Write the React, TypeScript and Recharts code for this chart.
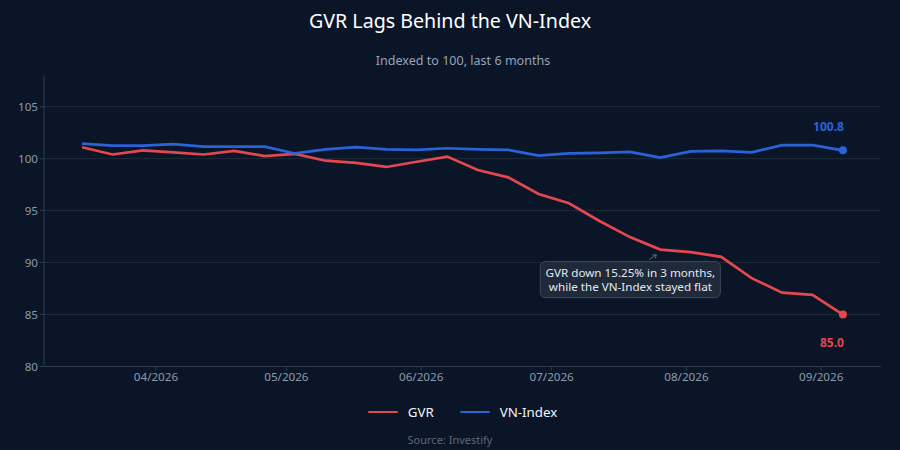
import { LineChart, Line, XAxis, YAxis, CartesianGrid, Legend, ReferenceDot } from "recharts";

const FONT = "'Noto Sans', sans-serif";
const BG = "#0a1628";
const RED = "#e2484e";
const BLUE = "#2a62d8";
const TICK = "#8e99a8";

const dates = [
  "2026-03-15", "2026-03-22", "2026-03-29", "2026-04-05", "2026-04-12", "2026-04-19",
  "2026-04-26", "2026-05-03", "2026-05-10", "2026-05-17", "2026-05-24", "2026-05-31",
  "2026-06-07", "2026-06-14", "2026-06-21", "2026-06-28", "2026-07-05", "2026-07-12",
  "2026-07-19", "2026-07-26", "2026-08-02", "2026-08-09", "2026-08-16", "2026-08-23",
  "2026-08-30", "2026-09-06",
];
const gvr = [
  101.1, 100.4, 100.8, 100.6, 100.4, 100.75, 100.25, 100.45, 99.8, 99.6, 99.2, 99.7, 100.2,
  98.9, 98.2, 96.6, 95.7, 94.0, 92.45, 91.25, 91.0, 90.55, 88.5, 87.1, 86.9, 85.0,
];
const vnIndex = [
  101.45, 101.25, 101.25, 101.4, 101.15, 101.15, 101.15, 100.5, 100.9, 101.1, 100.9, 100.85, 101.0,
  100.9, 100.85, 100.3, 100.5, 100.55, 100.65, 100.1, 100.7, 100.75, 100.6, 101.3, 101.3, 100.8,
];
const monthTicks = ["2026-04-01", "2026-05-01", "2026-06-01", "2026-07-01", "2026-08-01", "2026-09-01"];
const yTicks = [80, 85, 90, 95, 100, 105];
const noteLines = ["GVR down 15.25% in 3 months,", "while the VN-Index stayed flat"];

const toTime = (d: string) => Date.parse(d + "T00:00:00Z");
const DAY = 86400000;
const rows = dates.map((d, i) => ({ time: toTime(d), gvr: gvr[i], vnIndex: vnIndex[i] }));
const xDomain = [toTime(dates[0]) - 8.75 * DAY, toTime(dates[dates.length - 1]) + 8.75 * DAY];

const monthLabel = (t: number) => {
  const d = new Date(t);
  return `${String(d.getUTCMonth() + 1).padStart(2, "0")}/${d.getUTCFullYear()}`;
};

// only the last point of each series gets a dot and a value label
function endDot(color: string) {
  return (p: any) =>
    p.index === dates.length - 1 ? <circle key={p.index} cx={p.cx} cy={p.cy} r={4} fill={color} /> : <g key={p.index} />;
}

function endLabel(color: string, dy: number) {
  return (p: any) =>
    p.index === dates.length - 1 ? (
      <text x={p.x + 1} y={p.y + dy} textAnchor="end" fontFamily={FONT} fontSize={12} fontWeight={700} fill={color}>
        {Number(p.value).toFixed(1)}
      </text>
    ) : null;
}

function Note({ cx, cy }: any) {
  return (
    <g fontFamily={FONT}>
      <line x1={cx - 11} y1={cy + 10} x2={cx - 4} y2={cy + 5} stroke="#5b6b7f" strokeWidth={1} />
      <path d={`M${cx - 4} ${cy + 5} l-4 0.5 M${cx - 4} ${cy + 5} l-1 4`} stroke="#5b6b7f" strokeWidth={1} fill="none" />
      <rect x={cx - 120} y={cy + 12} width={180} height={36} rx={5} fill="#1e2a3a" stroke="#3b4a5d" />
      {noteLines.map((line, i) => (
        <text key={line} x={cx - 30} y={cy + 27 + i * 14} textAnchor="middle" fontSize={11.65} fill="#e2e8f0">
          {line}
        </text>
      ))}
    </g>
  );
}

function LegendRow({ payload }: any) {
  return (
    <div style={{ display: "flex", justifyContent: "center", alignItems: "center", fontFamily: FONT, fontSize: 13.3 }}>
      {(payload || []).map((item: any) => (
        <span key={item.value} style={{ display: "flex", alignItems: "center", marginRight: item.value === "GVR" ? 26 : 0 }}>
          <span style={{ width: 30, height: 2.5, background: item.color, marginRight: 10, borderRadius: 1 }} />
          <span style={{ color: "#f1f5f9" }}>{item.value}</span>
        </span>
      ))}
    </div>
  );
}

export default function App() {
  return (
    <div style={{ position: "absolute", left: 0, top: 0, width: 900, height: 450, background: BG, overflow: "hidden" }}>
      <LineChart width={900} height={450} data={rows} margin={{ top: 75.5, right: 19, bottom: 35.5, left: 0 }}>
        <CartesianGrid vertical={false} stroke="#1e2a38" syncWithTicks />
        <XAxis
          dataKey="time"
          type="number"
          scale="linear"
          domain={xDomain}
          ticks={monthTicks.map(toTime)}
          tickFormatter={monthLabel}
          height={30}
          stroke="#2d3b4e"
          tickSize={4}
          tick={{ fill: TICK, fontSize: 11.65, fontFamily: FONT }}
        />
        <YAxis
          domain={[80, 108]}
          ticks={yTicks}
          width={44}
          stroke="#2d3b4e"
          tickSize={4}
          tick={{ fill: TICK, fontSize: 11.65, fontFamily: FONT }}
        />
        <Line
          dataKey="gvr"
          name="GVR"
          stroke={RED}
          strokeWidth={2.7}
          dot={endDot(RED)}
          label={endLabel(RED, 32)}
          isAnimationActive={false}
        />
        <Line
          dataKey="vnIndex"
          name="VN-Index"
          stroke={BLUE}
          strokeWidth={2.7}
          dot={endDot(BLUE)}
          label={endLabel(BLUE, -19)}
          isAnimationActive={false}
        />
        <ReferenceDot x={toTime("2026-07-26")} y={91.25} shape={Note} />
        <Legend content={LegendRow} wrapperStyle={{ position: "absolute", left: 44, top: 403, width: 837 }} />
        <text x={450} y={28} textAnchor="middle" fontFamily={FONT} fontSize={19.65} fill="#ffffff">
          GVR Lags Behind the VN-Index
        </text>
        <text x={463} y={65} textAnchor="middle" fontFamily={FONT} fontSize={12.57} fill="#94a3b8">
          Indexed to 100, last 6 months
        </text>
        <text x={450} y={444} textAnchor="middle" fontFamily={FONT} fontSize={11} fill="#5b6879">
          Source: Investify
        </text>
      </LineChart>
    </div>
  );
}
